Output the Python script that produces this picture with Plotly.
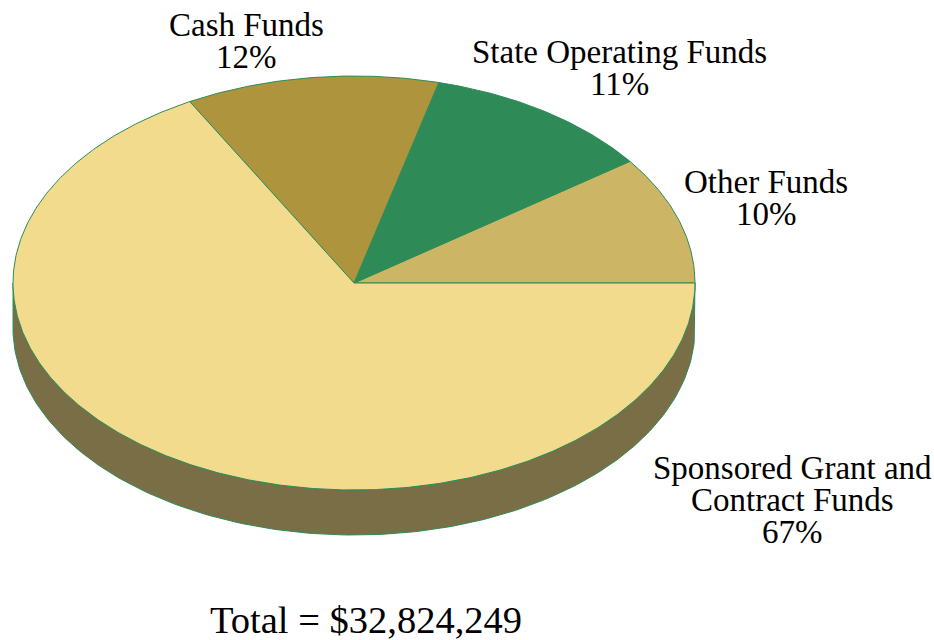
import numpy as np
import plotly.graph_objects as go

# Funding sources, in drawing order (counter-clockwise from 3 o'clock)
labels = ["Other Funds", "State Operating Funds", "Cash Funds", "Sponsored Grant and Contract Funds"]
shares = [10, 11, 12, 67]
colors = ["#CCB565", "#2E8B57", "#AD943D", "#F3DB8D"]
total_label = "Total = $32,824,249"

# Label text lines per slice
label_lines = {
    "Other Funds": ["Other Funds", "10%"],
    "State Operating Funds": ["State Operating Funds", "11%"],
    "Cash Funds": ["Cash Funds", "12%"],
    "Sponsored Grant and Contract Funds": ["Sponsored Grant and", "Contract Funds", "67%"],
}
label_pos = {
    "Other Funds": (766, 182),
    "State Operating Funds": (619, 52),
    "Cash Funds": (246, 25),
    "Sponsored Grant and Contract Funds": (792, 468),
}

# Ellipse geometry for the tilted pie (pixel space)
CX, CY, RX, RY, DEPTH = 354, 283, 341, 207, 45
EDGE = "#2E8B57"
SIDE = "#7A6E47"
FONT = "Liberation Serif, Times New Roman, serif"
LINE_GAP = 32


def ellipse_pt(deg, dy=0.0):
    t = np.radians(deg)
    return CX + RX * np.cos(t), CY - RY * np.sin(t) + dy


fig = go.Figure()

# Visible side wall (front half of the ellipse)
front = np.linspace(180, 360, 181)
xs_top, ys_top = ellipse_pt(front)
xs_bot, ys_bot = ellipse_pt(front[::-1], DEPTH)
fig.add_trace(go.Scatter(
    x=np.concatenate([xs_top, xs_bot, xs_top[:1]]),
    y=np.concatenate([ys_top, ys_bot, ys_top[:1]]),
    mode="lines", fill="toself", fillcolor=SIDE,
    line=dict(color=EDGE, width=1), hoverinfo="skip", showlegend=False,
))

# Top face slices
total = sum(shares)
start = 0.0
for lab, val, col in zip(labels, shares, colors):
    sweep = 360.0 * val / total
    angs = np.linspace(start, start + sweep, max(int(sweep * 2), 4))
    ex, ey = ellipse_pt(angs)
    xs = np.concatenate([[CX], ex, [CX]])
    ys = np.concatenate([[CY], ey, [CY]])
    fig.add_trace(go.Scatter(
        x=xs, y=ys, mode="lines", fill="toself", fillcolor=col,
        line=dict(color=EDGE, width=1), name=lab,
        hovertemplate=f"{lab}: {val}%<extra></extra>", showlegend=False,
    ))
    start += sweep

# Slice labels, one annotation per line for tight spacing
for lab in labels:
    x0, y0 = label_pos[lab]
    for i, line in enumerate(label_lines[lab]):
        fig.add_annotation(
            x=x0, y=y0 + i * LINE_GAP, text=line, showarrow=False,
            xanchor="center", yanchor="middle",
            font=dict(family=FONT, size=33, color="#000000"),
        )

fig.add_annotation(
    x=366, y=620, text=total_label, showarrow=False,
    xanchor="center", yanchor="middle",
    font=dict(family=FONT, size=38.5, color="#000000"),
)

fig.update_layout(
    width=934, height=640,
    margin=dict(l=0, r=0, t=0, b=0),
    paper_bgcolor="white", plot_bgcolor="white",
    xaxis=dict(range=[0, 934], visible=False, fixedrange=True),
    yaxis=dict(range=[640, 0], visible=False, fixedrange=True),
)

fig.write_html("out.html")
